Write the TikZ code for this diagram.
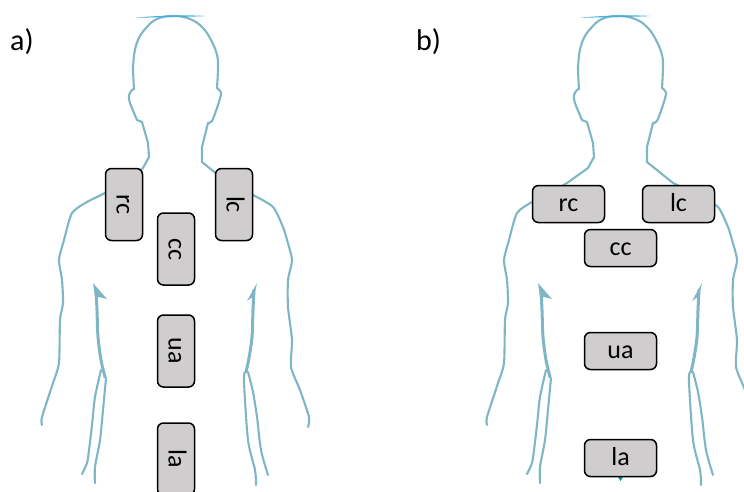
\documentclass[tikz,border=0pt]{standalone}
\usepackage{fontspec}
\setmainfont{Carlito}
\usepackage{tikz}
\usetikzlibrary{arrows.meta,positioning,calc}

\definecolor{bodyline}{HTML}{7FB6C6}
\definecolor{padfill}{HTML}{CFCDCD}

\tikzset{
    outline/.style={bodyline, line width=2.1pt, line join=round, line cap=round},
    armline/.style={outline, line width=3pt},
    padwide/.style={draw=black, line width=1.5pt, fill=padfill, rounded corners=6pt,
        inner sep=0pt, font=\fontsize{26}{26}\selectfont, text height=15pt, text depth=0pt,
        minimum width=72pt, minimum height=37pt},
    padtall/.style={padwide, rotate=-90},
    panel/.style={font=\fontsize{30}{30}\selectfont, anchor=base west, inner sep=0pt}
}

% Body drawn behind the pads
\newcommand{\bodyfigure}{
    % Arm and shoulder, left
    \draw[outline] plot[smooth, tension=0.4] coordinates {
        (42,425) (42,417) (53,383) (59,363) (60,320) (63,303) (62,280) (59,260) (64,240)
        (72,213) (87,202) (105,193) (122,183)};
    % Neck, left
    \draw[outline] (122,183) -- (143,168) -- (149,157) -- (148,143) -- (142,122) -- (137,120);
    \draw[outline] plot[smooth, tension=0.5] coordinates {
        (137,120) (130,103) (129,95) (132,90) (134,89)};
    % Head
    \draw[outline] plot[smooth, tension=0.7] coordinates {
        (134,89) (133,67) (134,55) (138,40) (146,28) (157,19) (173,16) (190,19) (203,28)
        (212,42) (217,55) (218,67) (217,88)};
    % Neck, right
    \draw[outline] plot[smooth, tension=0.5] coordinates {
        (217,88) (221,93) (218,105) (212,121) (208,123)};
    \draw[outline] (208,123) -- (202,147) -- (202,162) -- (228,183);
    % Arm and shoulder, right
    \draw[outline] plot[smooth, tension=0.4] coordinates {
        (228,183) (253,195) (273,207) (283,227) (287,240)
        (292,260) (288,280) (288,307) (292,340) (291,367) (300,390) (309,417) (308,427)};
    % Thin flash on top of the head
    \fill[cyan!60!bodyline] (135,18) .. controls (155,15) and (195,15) .. (205,16)
        .. controls (195,17) and (155,17) .. (135,18) -- cycle;
    % Left flank and waist
    \fill[bodyline] (93,283) -- (107,299) -- (99,297) -- (95,297) -- cycle;
    \draw[armline] plot[smooth, tension=0.5] coordinates {(96,290) (97,310) (98,337) (101,360) (105,377)};
    \draw[outline] plot[smooth, tension=0.5] coordinates {(101,370) (95,397) (92,425) (89,450) (87,463) (82,474)};
    \draw[outline] plot[smooth, tension=0.5] coordinates {(106,378) (103,410) (100,440) (95,467) (95,483)};
    % Right flank and waist
    \fill[bodyline] (257,283) -- (247,301) -- (251,298) -- (254,297) -- cycle;
    \draw[armline] plot[smooth, tension=0.5] coordinates {(254,290) (253,310) (252,337) (249,358) (246,372)};
    \draw[outline] plot[smooth, tension=0.5] coordinates {(245,372) (244,382) (248,440) (255,470) (256,485)};
    \draw[outline] plot[smooth, tension=0.5] coordinates {(248,372) (253,392) (257,417) (261,450) (268,475)};
    % Mark under the torso
    \fill[teal!80!cyan] (173,477) -- (178,477) -- (175.5,481) -- cycle;
}

\begin{document}
\begin{tikzpicture}[x=1pt, y=-1pt]
    \useasboundingbox (0,0) rectangle (744,491);

    % Panel a: pads placed upright
    \node[panel] (labela) at (10,50) {a)};
    \begin{scope}
        \bodyfigure
    \end{scope}
    \node[padtall] (rca) at (124,204.5) {rc};
    \node[padtall] (lca) at (234,204.5) {lc};
    \node[padtall] (cca) at (176,249) {cc};
    \node[padtall] (uaa) at (176,351) {ua};
    \node[padtall] (laa) at (176,459) {la};

    % Panel b: pads placed flat
    \node[panel] (labelb) at (416,50) {b)};
    \begin{scope}[xshift=445pt]
        \bodyfigure
    \end{scope}
    \node[padwide] (rcb) at (568.5,204) {rc};
    \node[padwide] (lcb) at (678.5,204) {lc};
    \node[padwide] (ccb) at (620.5,248) {cc};
    \node[padwide] (uab) at (620.5,351) {ua};
    \node[padwide] (lab) at (620.5,458) {la};
\end{tikzpicture}
\end{document}
